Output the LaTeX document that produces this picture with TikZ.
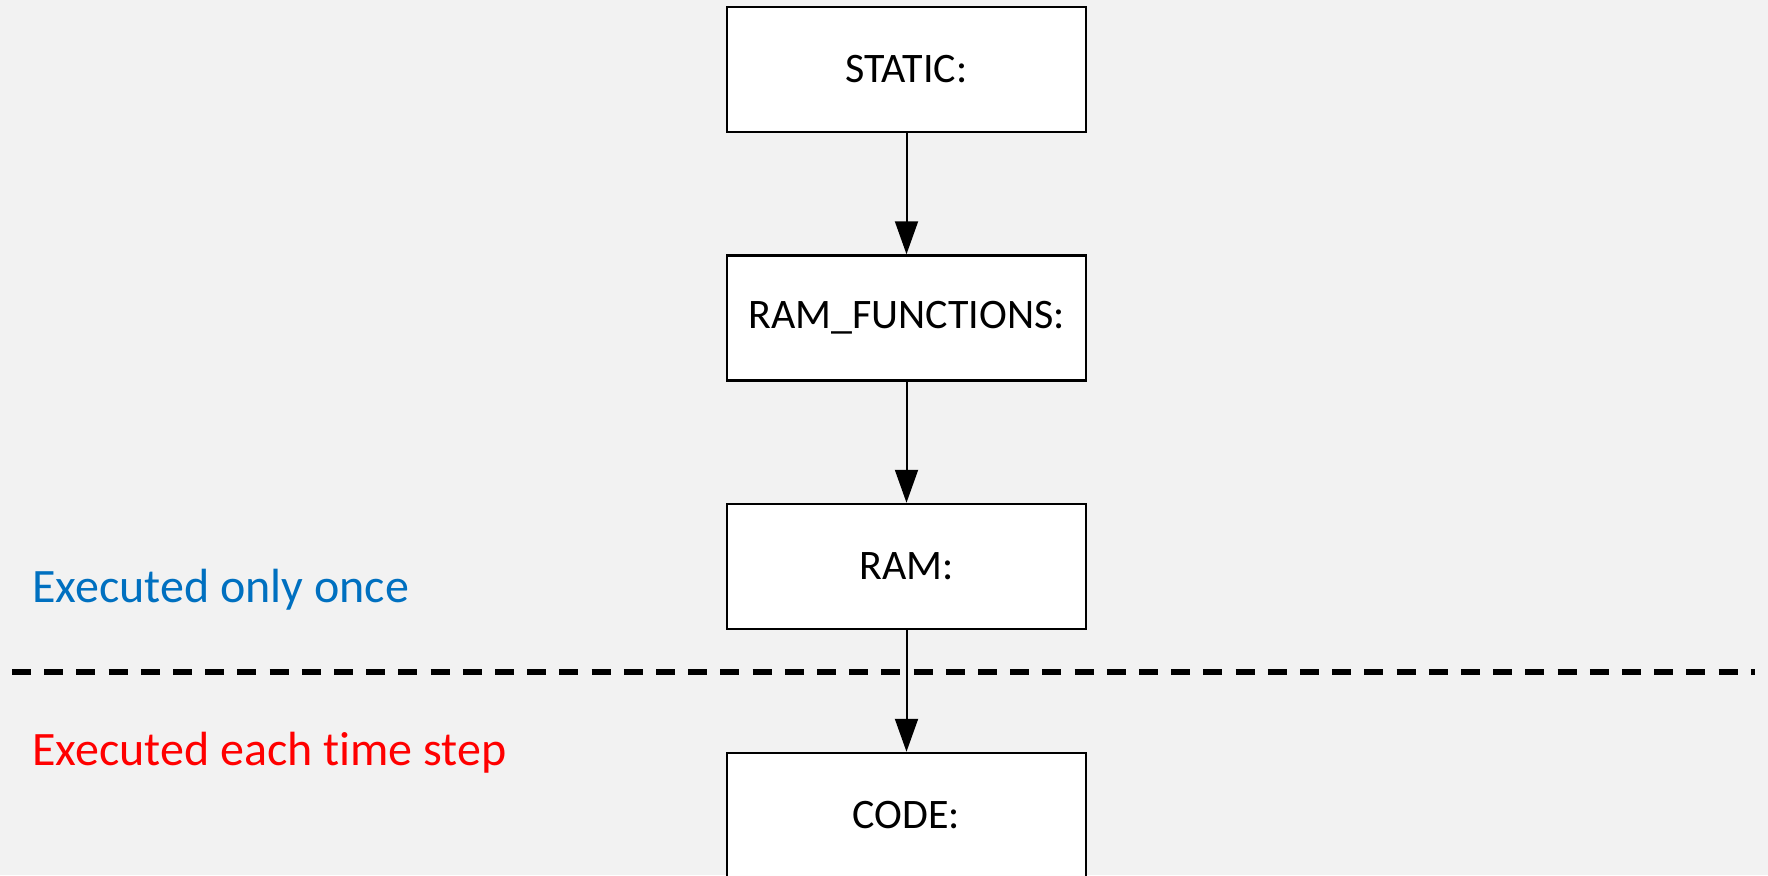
\documentclass[tikz,border=0pt]{standalone}
\usepackage{fontspec}
\setmainfont{Carlito}[Ligatures=NoCommon]
\usetikzlibrary{arrows.meta}
\definecolor{bg}{HTML}{F2F2F2}
\definecolor{onceblue}{RGB}{0,112,192}
\begin{document}
\begin{tikzpicture}[x=0.5pt,y=-0.5pt,
  blockbox/.style={draw=black,fill=white,line width=1.25pt,minimum width=179.5pt,minimum height=62.5pt,inner sep=0pt,font=\fontsize{21pt}{25pt}\selectfont},
  flowarrow/.style={draw=black,line width=1pt,-{Triangle[width=11.5pt,length=16.5pt]}},
  sidelabel/.style={anchor=base west,inner sep=0pt,font=\fontsize{24pt}{29pt}\selectfont}]
\fill[bg] (0,0) rectangle (1768,875);
\useasboundingbox (0,0) rectangle (1768,875);
\coordinate (dl) at (12,672);
\coordinate (dr) at (1755,672);
\draw[line width=2.6pt,dash pattern=on 9.5pt off 6.6pt] (dl) -- (dr);
\node[blockbox] (static) at (906.5,69.5) {STATIC:};
\node[blockbox] (ramf) at (906.5,318) {RAM\_FUNCTIONS:};
\node[blockbox] (ram) at (906.5,566.5) {RAM:};
\node[blockbox] (code) at (906.5,815.5) {CODE:};
\draw[flowarrow] (static) -- (ramf);
\draw[flowarrow] (ramf) -- (ram);
\draw[flowarrow] (ram) -- (code);
\node[sidelabel,text=onceblue] (once) at (32,602) {Executed only once};
\node[sidelabel,text=red] (each) at (32,765) {Executed each time step};
\end{tikzpicture}
\end{document}
